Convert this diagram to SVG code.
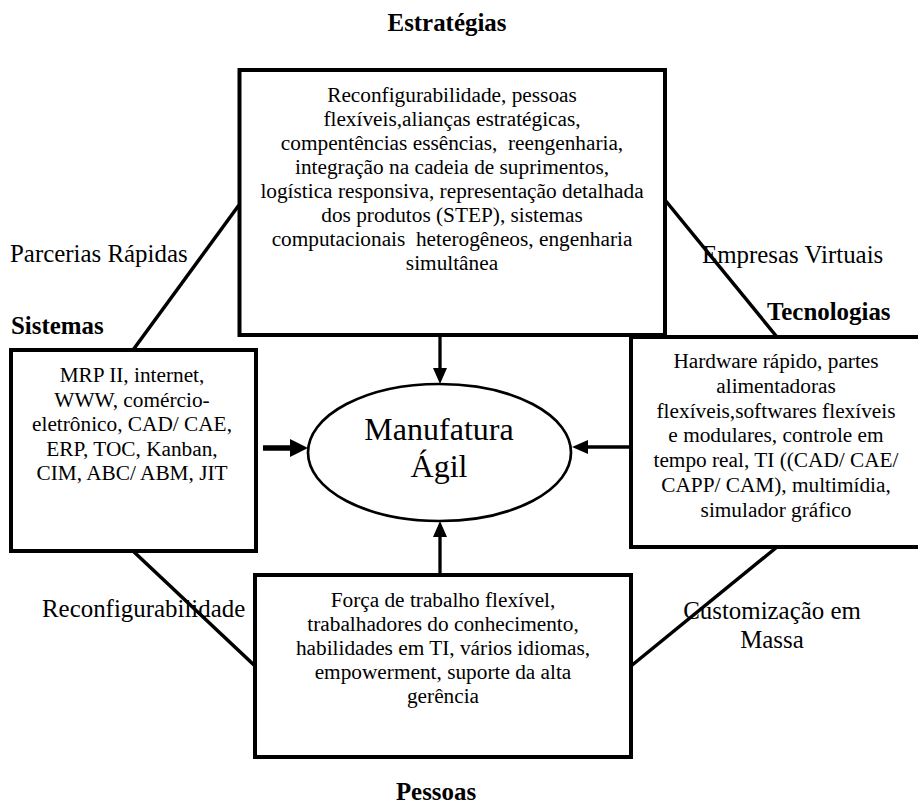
<svg xmlns="http://www.w3.org/2000/svg" width="918" height="804" viewBox="0 0 918 804">
  <style>
    .box { fill: #fff; stroke: #000; stroke-width: 4; }
    .t { font-family: "Liberation Serif", "Times New Roman", serif; font-size: 21.3px; fill: #000; text-anchor: middle; }
    .lbl { font-family: "Liberation Serif", "Times New Roman", serif; font-size: 24.9px; fill: #000; }
    .hd { font-family: "Liberation Serif", "Times New Roman", serif; font-size: 24.9px; font-weight: bold; fill: #000; }
    .ln { stroke: #000; stroke-width: 3.5; fill: none; }
    .ar { stroke: #000; stroke-width: 3.3; fill: none; }
  </style>
  <defs>
    <marker id="ah" markerUnits="userSpaceOnUse" viewBox="0 0 16 14" markerWidth="16" markerHeight="14" refX="6" refY="7" orient="auto">
      <path d="M0,0 L16,7 L0,14 z" fill="#000"/>
    </marker>
    <marker id="ahBig" markerUnits="userSpaceOnUse" viewBox="0 0 18 18" markerWidth="18" markerHeight="18" refX="6" refY="9" orient="auto">
      <path d="M0,0 L18,9 L0,18 z" fill="#000"/>
    </marker>
  </defs>

  <g id="connectors">
    <line class="ln" x1="133" y1="350" x2="239" y2="205"/>
    <line class="ln" x1="665" y1="200" x2="777" y2="337"/>
    <line class="ln" x1="133" y1="551" x2="255" y2="666"/>
    <line class="ln" x1="777" y1="547" x2="631" y2="666"/>
    <path class="ar" d="M440,335 L440,374" marker-end="url(#ah)"/>
    <path class="ar" d="M440,575 L440,531" marker-end="url(#ah)"/>
    <path class="ar" d="M631,447 L582,447" marker-end="url(#ah)"/>
    <path d="M263,448 L296,448" stroke="#000" stroke-width="5.5" fill="none" marker-end="url(#ahBig)"/>
  </g>

  <g id="connector-labels">
    <text class="lbl" x="10" y="262">Parcerias Rápidas</text>
    <text class="lbl" x="702" y="263">Empresas Virtuais</text>
    <text class="lbl" x="42" y="617">Reconfigurabilidade</text>
    <text class="lbl" x="772" y="619" text-anchor="middle">Customização em</text>
    <text class="lbl" x="772" y="648" text-anchor="middle">Massa</text>
  </g>

  <g id="estrategias">
    <text class="hd" x="447" y="31" text-anchor="middle">Estratégias</text>
    <rect class="box" x="239.5" y="70" width="425.5" height="265"/>
    <text class="t" x="452" y="102">Reconfigurabilidade, pessoas</text>
    <text class="t" x="452" y="126">flexíveis,alianças estratégicas,</text>
    <text class="t" x="452" y="150" xml:space="preserve">compentências essências,  reengenharia,</text>
    <text class="t" x="452" y="174">integração na cadeia de suprimentos,</text>
    <text class="t" x="452" y="198">logística responsiva, representação detalhada</text>
    <text class="t" x="452" y="222">dos produtos (STEP), sistemas</text>
    <text class="t" x="452" y="246" xml:space="preserve">computacionais  heterogêneos, engenharia</text>
    <text class="t" x="452" y="270">simultânea</text>
  </g>

  <g id="sistemas">
    <text class="hd" x="11" y="334">Sistemas</text>
    <rect class="box" x="11" y="350" width="245" height="201"/>
    <text class="t" x="132" y="382">MRP II, internet,</text>
    <text class="t" x="132" y="406.5">WWW, comércio-</text>
    <text class="t" x="132" y="431">eletrônico, CAD/ CAE,</text>
    <text class="t" x="132" y="455.5">ERP, TOC, Kanban,</text>
    <text class="t" x="132" y="480">CIM, ABC/ ABM, JIT</text>
  </g>

  <g id="tecnologias">
    <text class="hd" x="767" y="320">Tecnologias</text>
    <rect class="box" x="631" y="337" width="300" height="210"/>
    <text class="t" x="776" y="368">Hardware rápido, partes</text>
    <text class="t" x="776" y="392.8">alimentadoras</text>
    <text class="t" x="776" y="417.6">flexíveis,softwares flexíveis</text>
    <text class="t" x="776" y="442.4">e modulares, controle em</text>
    <text class="t" x="776" y="467.2">tempo real, TI ((CAD/ CAE/</text>
    <text class="t" x="776" y="492">CAPP/ CAM), multimídia,</text>
    <text class="t" x="776" y="516.8">simulador gráfico</text>
  </g>

  <g id="pessoas">
    <rect class="box" x="255" y="575" width="376" height="182"/>
    <text class="t" x="443" y="607">Força de trabalho flexível,</text>
    <text class="t" x="443" y="631">trabalhadores do conhecimento,</text>
    <text class="t" x="443" y="655">habilidades em TI, vários idiomas,</text>
    <text class="t" x="443" y="679">empowerment, suporte da alta</text>
    <text class="t" x="443" y="703">gerência</text>
    <text class="hd" x="436" y="800" text-anchor="middle">Pessoas</text>
  </g>

  <g id="manufatura">
    <ellipse cx="439.5" cy="452.5" rx="131.5" ry="68.5" fill="#fff" stroke="#000" stroke-width="2.7"/>
    <text class="t" x="439" y="440" style="font-size:32px">Manufatura</text>
    <text class="t" x="439" y="477" style="font-size:32px">Ágil</text>
  </g>
</svg>
